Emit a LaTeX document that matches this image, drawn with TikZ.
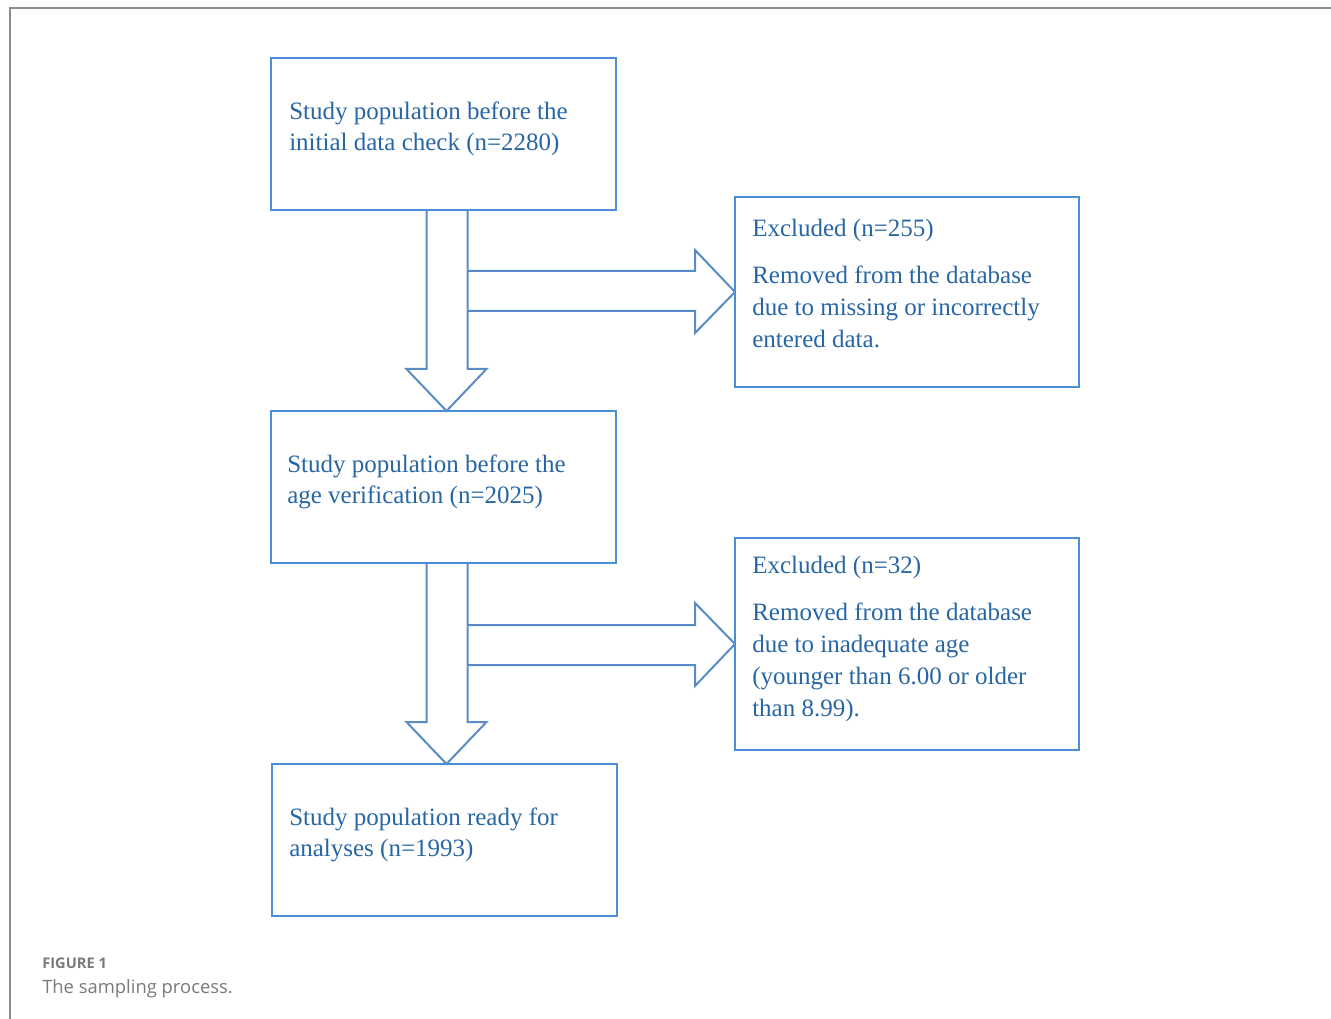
\documentclass[tikz,border=0pt]{standalone}
\usepackage{fontspec}
\setmainfont{Liberation Serif}
\newfontfamily\capfont{Open Sans}
\usepackage{xcolor}
\usetikzlibrary{calc}
\definecolor{cline}{HTML}{4A8FD6}
\definecolor{carrow}{HTML}{5A8BC6}
\definecolor{ctext}{HTML}{2866A3}
\definecolor{cframe}{HTML}{8C8C8C}
\definecolor{ccap}{HTML}{7A7A7A}
\tikzset{
  box/.style   = {draw=cline, line width=1.9pt, outer sep=0pt, inner sep=0pt,
                  minimum width=258.75pt, minimum height=114pt},
  excl/.style  = {box, minimum width=258pt},
  txt/.style   = {anchor=north west, inner sep=0pt, align=left, text=ctext,
                  font=\fontsize{18.75pt}{23.25pt}\selectfont},
  etxt/.style  = {txt, font=\fontsize{18.75pt}{24pt}\selectfont},
  blk/.style   = {draw=carrow, line width=1.5pt, line join=miter},
  captxt/.style = {anchor=base west, inner sep=0pt, text=ccap},
}
\begin{document}
\begin{tikzpicture}[x=0.75pt, y=-0.75pt]
  \useasboundingbox (0,0) rectangle (1331,1019);
  \draw[cframe, line width=1.5pt] (10,1019) -- (10,8) -- (1331,8);

  % main column
  \node[box] (b1) at (443.5,134) {};
  \node[box] (b2) at (443.5,487) {};
  \node[box] (b3) at (444.5,840) {};
  % exclusions
  \node[excl, minimum height=142.5pt] (e1) at (907,292) {};
  \node[excl, minimum height=159pt] (e2) at (907,644) {};

  \node[txt] (t1) at ($(b1.north west)+(18,44)$)
     {Study population before the\\initial data check (n=2280)};
  \node[txt] (t2) at ($(b2.north west)+(16,44)$)
     {Study population before the\\age verification (n=2025)};
  \node[txt] (t3) at ($(b3.north west)+(17,44)$)
     {Study population ready for\\analyses (n=1993)};
  \node[etxt] (te1) at ($(e1.north west)+(17,22)$)
     {Excluded (n=255)\\[11.25pt]Removed from the database\\due to missing or incorrectly\\entered data.};
  \node[etxt] (te2) at ($(e2.north west)+(17,18)$)
     {Excluded (n=32)\\[11.25pt]Removed from the database\\due to inadequate age\\(younger than 6.00 or older\\than 8.99).};

  % block arrows
  \draw[blk] ($(b1.south)+(-17,0)$) -- ($(b2.north -| b1.south)+(-17,-42)$)
     -- ($(b2.north -| b1.south)+(-37,-42)$) -- ($(b2.north -| b1.south)+(3,0)$)
     -- ($(b2.north -| b1.south)+(43,-42)$) -- ($(b2.north -| b1.south)+(24,-42)$)
     -- ($(b1.south)+(24,0)$);
  \draw[blk] ($(b1.south)+(24,61)$) -- ($(e1.west)+(-40,-21)$)
     -- ($(e1.west)+(-40,-42)$) -- (e1.west) -- ($(e1.west)+(-40,41)$)
     -- ($(e1.west)+(-40,19)$) -- ($(b1.south)+(24,101)$);
  \draw[blk] ($(b2.south)+(-17,0)$) -- ($(b3.north -| b2.south)+(-17,-42)$)
     -- ($(b3.north -| b2.south)+(-37,-42)$) -- ($(b3.north -| b2.south)+(3,0)$)
     -- ($(b3.north -| b2.south)+(43,-42)$) -- ($(b3.north -| b2.south)+(24,-42)$)
     -- ($(b2.south)+(24,0)$);
  \draw[blk] ($(b2.south)+(24,62)$) -- ($(e2.west)+(-40,-19)$)
     -- ($(e2.west)+(-40,-41)$) -- (e2.west) -- ($(e2.west)+(-40,42)$)
     -- ($(e2.west)+(-40,21)$) -- ($(b2.south)+(24,102)$);

  % caption
  \node[captxt, font=\capfont\bfseries\fontsize{11pt}{13pt}\selectfont] (fig) at (42,968) {FIGURE 1};
  \node[captxt, font=\capfont\fontsize{13.8pt}{17pt}\selectfont] (capt) at (42,993) {The sampling process.};
\end{tikzpicture}
\end{document}
